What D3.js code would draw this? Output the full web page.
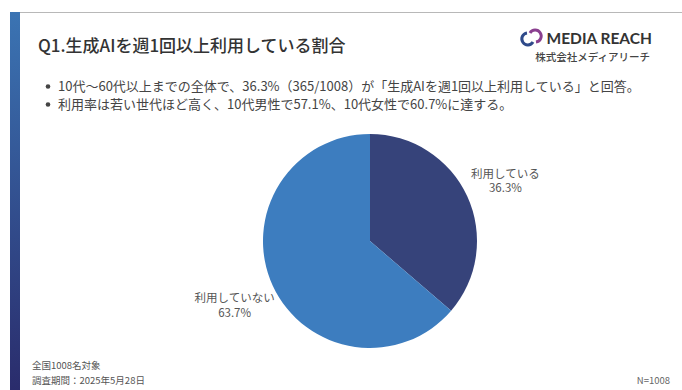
<!DOCTYPE html>
<html><head><meta charset="utf-8">
<script src="https://cdn.jsdelivr.net/npm/d3@7"></script>
<style>
html,body{margin:0;padding:0;background:#fff;}
svg{display:block;font-family:"Noto Sans CJK JP","Noto Sans",sans-serif;}
</style></head>
<body>
<svg id="chart" width="682" height="390"></svg>
<script>
const categories = ["利用している", "利用していない"];
const values = [36.3, 63.7];
const colors = ["#36437a", "#3d7dbf"];
const title = "Q1.生成AIを週1回以上利用している割合";
const bullets = [
  "10代～60代以上までの全体で、36.3%（365/1008）が「生成AIを週1回以上利用している」と回答。",
  "利用率は若い世代ほど高く、10代男性で57.1%、10代女性で60.7%に達する。"
];
const notes = ["全国1008名対象", "調査期間：2025年5月28日"];
const sampleLabel = "N=1008";

const svg = d3.select("#chart");

// side bar with vertical gradient
const defs = svg.append("defs");
const grad = defs.append("linearGradient").attr("id","side").attr("x1",0).attr("y1",0).attr("x2",0).attr("y2",1);
grad.append("stop").attr("offset","0%").attr("stop-color","#3b74b3");
grad.append("stop").attr("offset","100%").attr("stop-color","#2a2c6c");
svg.append("rect").attr("x",10).attr("y",12).attr("width",10).attr("height",378).attr("fill","url(#side)");
svg.append("line").attr("x1",20).attr("x2",682).attr("y1",12.5).attr("y2",12.5).attr("stroke","#b8b8b8").attr("stroke-width",1);

// title
svg.append("text").attr("x",38).attr("y",52).attr("font-size",17).attr("font-weight",500).attr("fill","#333").text(title);

// logo
const logo = svg.append("g");
logo.append("path").attr("d","M527,33 a6,6 0 1,0 6,9").attr("fill","none").attr("stroke","#2f4a8a").attr("stroke-width",3);
logo.append("path").attr("d","M530,33 a6,6 0 1,1 6,9").attr("fill","none").attr("stroke","#8a3f8f").attr("stroke-width",3);
logo.append("text").attr("x",652).attr("y",44).attr("text-anchor","end").attr("font-size",15.5).attr("font-weight",700)
  .attr("font-family","Lato, 'Noto Sans', sans-serif").attr("fill","#333").text("MEDIA REACH");
logo.append("text").attr("x",650).attr("y",61).attr("text-anchor","end").attr("font-size",10.5).attr("font-weight",500).attr("fill","#444").text("株式会社メディアリーチ");

// bullets
bullets.forEach((b,i)=>{
  const y = 91 + i*18;
  svg.append("circle").attr("cx",48).attr("cy",y-4.5).attr("r",2.3).attr("fill","#444");
  svg.append("text").attr("x",58).attr("y",y).attr("font-size",13).attr("fill","#444").text(b);
});

// pie
const cx = 370, cy = 241, r = 107;
const pie = d3.pie().sort(null).value(d=>d)(values);
const arc = d3.arc().innerRadius(0).outerRadius(r);
const g = svg.append("g").attr("transform",`translate(${cx},${cy})`);
g.selectAll("path").data(pie).join("path").attr("d",arc).attr("fill",(d,i)=>colors[i]);

// labels outside
const labelArc = d3.arc().innerRadius(149).outerRadius(149);
pie.forEach((d,i)=>{
  const [lx,ly] = labelArc.centroid(d);
  const t = g.append("text").attr("text-anchor","middle").attr("font-size",11.5).attr("fill","#555");
  t.append("tspan").attr("x",lx).attr("y",ly-1).text(categories[i]);
  t.append("tspan").attr("x",lx).attr("y",ly+13.5).text(d3.format(".1f")(values[i])+"%");
});

// footer
notes.forEach((n,i)=>{
  svg.append("text").attr("x",32).attr("y",369+i*15).attr("font-size",9.5).attr("fill","#555").text(n);
});
svg.append("text").attr("x",670).attr("y",384).attr("text-anchor","end").attr("font-size",9.5).attr("fill","#666").text(sampleLabel);
</script>
</body></html>
